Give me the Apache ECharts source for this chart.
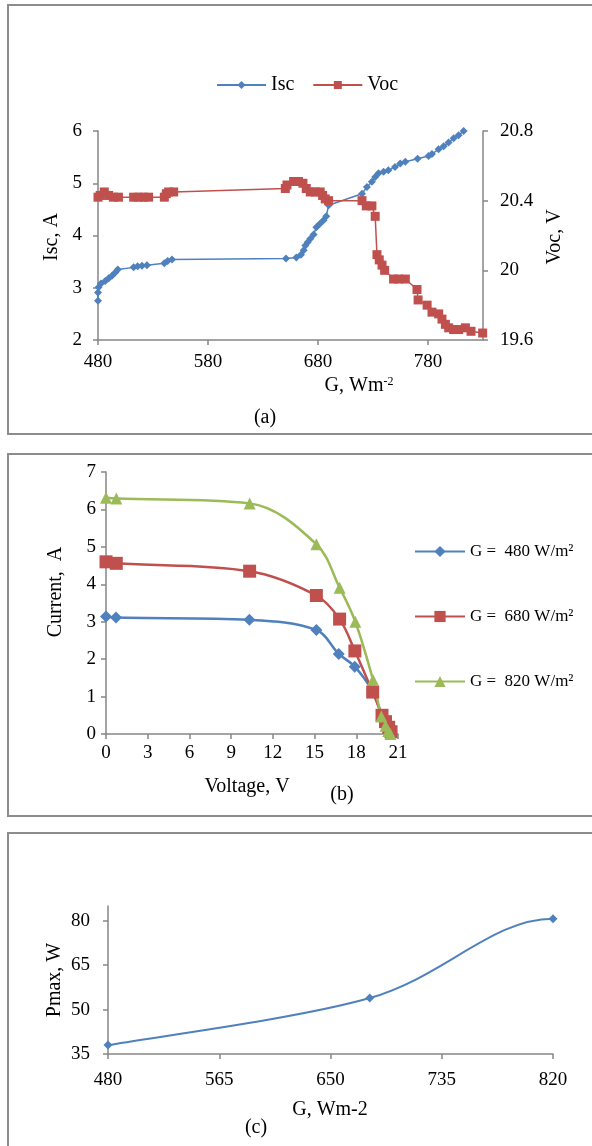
<!DOCTYPE html>
<html>
<head>
<meta charset="utf-8">
<script src="https://cdn.jsdelivr.net/npm/echarts@6/dist/echarts.min.js"></script>
<style>
html,body{margin:0;padding:0;background:#fff;}
#chart{width:592px;height:1146px;}
</style>
</head>
<body>
<div id="chart"></div>
<script>
// ---------- Panel (a): Isc and Voc vs irradiance ----------
const gIsc = [480, 480, 480.5, 482.7, 486.6, 489.7, 492.7, 495.7, 498, 512.4, 516, 520, 524.5, 540.3, 543.3, 547.3, 650.9, 660.3, 664.5, 667, 668.5, 670.6, 673, 676, 678.5, 681.5, 685, 687.5, 689.7, 720, 724.5, 729, 732, 735, 739.6, 744, 750, 754.8, 759.4, 770.5, 780.5, 783.6, 789.6, 794.2, 798.7, 803.3, 807.8, 812.4];
const isc = [2.75, 2.91, 3.01, 3.08, 3.13, 3.18, 3.23, 3.29, 3.35, 3.39, 3.41, 3.42, 3.43, 3.47, 3.51, 3.54, 3.56, 3.58, 3.63, 3.72, 3.81, 3.87, 3.94, 4.02, 4.16, 4.22, 4.29, 4.37, 4.58, 4.80, 4.93, 5.03, 5.12, 5.19, 5.22, 5.25, 5.31, 5.38, 5.41, 5.47, 5.52, 5.56, 5.65, 5.71, 5.78, 5.86, 5.92, 6.0];
const gVoc = [480, 482, 485.7, 489.7, 494, 498.6, 512.4, 517, 521.5, 526, 540.3, 542.1, 544.2, 548.8, 650.3, 651.8, 657.8, 662.3, 666.3, 669.3, 673, 677.5, 682, 684.2, 686.6, 689.6, 720, 723.9, 729, 732, 733.6, 735.7, 738.2, 740.6, 748.7, 753.3, 759.4, 770, 771, 779.2, 783.6, 789.7, 792.7, 795.8, 798.8, 803.3, 807.9, 814, 819.1, 829.7];
const voc = [20.42, 20.43, 20.45, 20.43, 20.42, 20.42, 20.42, 20.42, 20.42, 20.42, 20.42, 20.44, 20.45, 20.45, 20.47, 20.49, 20.51, 20.51, 20.50, 20.47, 20.45, 20.45, 20.45, 20.43, 20.41, 20.40, 20.40, 20.37, 20.37, 20.31, 20.09, 20.06, 20.03, 20.00, 19.95, 19.95, 19.95, 19.89, 19.83, 19.80, 19.76, 19.75, 19.72, 19.69, 19.67, 19.66, 19.66, 19.67, 19.65, 19.64];

// ---------- Panel (b): I-V curves ----------
const v480 = [0, 0.72, 10.31, 15.13, 16.74, 17.89, 19.15, 19.9, 20.15, 20.35, 20.5];
const i480 = [3.14, 3.11, 3.05, 2.78, 2.14, 1.80, 1.15, 0.45, 0.28, 0.14, 0.03];
const v680 = [0, 0.74, 10.33, 15.13, 16.8, 17.9, 19.18, 19.85, 20.1, 20.33, 20.5];
const i680 = [4.60, 4.56, 4.35, 3.70, 3.07, 2.22, 1.12, 0.50, 0.33, 0.18, 0.06];
const v820 = [0, 0.74, 10.33, 15.13, 16.8, 17.93, 19.2, 19.8, 20.1, 20.3, 20.45];
const i820 = [6.31, 6.29, 6.16, 5.07, 3.91, 3.00, 1.45, 0.47, 0.22, 0.08, 0.0];
const ivNames = ['G =  480 W/m\u00b2', 'G =  680 W/m\u00b2', 'G =  820 W/m\u00b2'];

// ---------- Panel (c): Pmax vs G ----------
const gP = [480, 680, 820];
const pmax = [38, 53.9, 80.7];

const FONT = "'Liberation Serif','Times New Roman',serif";
const BLUE = '#4F81BD', RED = '#C0504D', GREEN = '#9BBB59';
const AX = '#868686';
const zip = (a, b) => a.map((v, i) => [v, b[i]]);

function axisBase(extra) {
  return Object.assign({
    type: 'value',
    splitLine: {show: false},
    axisLine: {show: true, onZero: false, lineStyle: {color: AX, width: 1.5}},
    axisTick: {show: true, inside: false, length: 5, lineStyle: {color: AX, width: 1.5}},
    axisLabel: {color: '#000', fontFamily: FONT, fontSize: 19}
  }, extra);
}

// Spreadsheet-style smoothed curve: cubic Bezier segments through the data points,
// positioned with the chart's own axes (api.coord).
function smoothSegment(xs, ys, color, width) {
  return function (params, api) {
    const i = params.dataIndex;
    const n = xs.length;
    if (i >= n - 1) return null;
    const p = xs.map((x, k) => api.coord([x, ys[k]]));
    const handle = (k) => {
      if (k === 0) return [(p[1][0] - p[0][0]) / 6, (p[1][1] - p[0][1]) / 6];
      if (k === n - 1) return [(p[k][0] - p[k - 1][0]) / 3, 0];
      return [(p[k + 1][0] - p[k - 1][0]) / 6, (p[k + 1][1] - p[k - 1][1]) / 6];
    };
    const h0 = handle(i), h1 = handle(i + 1);
    return {
      type: 'bezierCurve',
      shape: {
        x1: p[i][0], y1: p[i][1], x2: p[i + 1][0], y2: p[i + 1][1],
        cpx1: p[i][0] + h0[0], cpy1: p[i][1] + h0[1],
        cpx2: p[i + 1][0] - h1[0], cpy2: p[i + 1][1] - h1[1]
      },
      style: {stroke: color, lineWidth: width, fill: 'none'}
    };
  };
}

const chart = echarts.init(document.getElementById('chart'), null, {renderer: 'canvas'});

const titleText = (x, y, text, rot, extra) => Object.assign({
  type: 'text', x: x, y: y, rotation: rot || 0, z: 10,
  style: {text: text, fill: '#000', fontFamily: FONT, fontSize: 20, align: 'center', verticalAlign: 'middle'}
}, extra || {});

const option = {
  backgroundColor: '#fff',
  animation: false,
  grid: [
    {left: 98, top: 131, width: 385, height: 209},
    {left: 106, top: 472, width: 292, height: 262},
    {left: 108, top: 906, width: 445, height: 148}
  ],
  xAxis: [
    axisBase({gridIndex: 0, min: 480, max: 830, interval: 100,
      axisLabel: {color: '#000', fontFamily: FONT, fontSize: 19, margin: 13, showMaxLabel: false}}),
    axisBase({gridIndex: 1, min: 0, max: 21, interval: 3,
      axisLabel: {color: '#000', fontFamily: FONT, fontSize: 19, margin: 10}}),
    axisBase({gridIndex: 2, min: 480, max: 820, interval: 85,
      axisLabel: {color: '#000', fontFamily: FONT, fontSize: 19, margin: 17}})
  ],
  yAxis: [
    axisBase({gridIndex: 0, min: 2, max: 6, interval: 1, position: 'left',
      axisLabel: {color: '#000', fontFamily: FONT, fontSize: 19, margin: 16}}),
    axisBase({gridIndex: 0, min: 19.6, max: 20.8, interval: 0.4, position: 'right',
      axisLabel: {color: '#000', fontFamily: FONT, fontSize: 19, margin: 17,
        formatter: v => String(Math.round(v * 10) / 10)}}),
    axisBase({gridIndex: 1, min: 0, max: 7, interval: 1,
      axisLabel: {color: '#000', fontFamily: FONT, fontSize: 19, margin: 10}}),
    axisBase({gridIndex: 2, min: 35, max: 85, interval: 15,
      axisLabel: {color: '#000', fontFamily: FONT, fontSize: 19, margin: 18, showMaxLabel: false}})
  ],
  legend: [
    {data: ['Isc', 'Voc'], left: 216, top: 75, padding: 0, itemWidth: 49, itemHeight: 10, itemGap: 18,
      textStyle: {color: '#000', fontFamily: FONT, fontSize: 20}},
    {data: [ivNames[0]], left: 414, top: 543, padding: 0, itemWidth: 50, itemHeight: 14,
      textStyle: {color: '#000', fontFamily: FONT, fontSize: 17}},
    {data: [ivNames[1]], left: 414, top: 608, padding: 0, itemWidth: 50, itemHeight: 14,
      textStyle: {color: '#000', fontFamily: FONT, fontSize: 17}},
    {data: [ivNames[2]], left: 414, top: 673, padding: 0, itemWidth: 50, itemHeight: 14,
      textStyle: {color: '#000', fontFamily: FONT, fontSize: 17}}
  ],
  series: [
    {name: 'Isc', type: 'line', xAxisIndex: 0, yAxisIndex: 0, data: zip(gIsc, isc),
      symbol: 'diamond', symbolSize: 8, color: BLUE, lineStyle: {width: 1.5, color: BLUE}, itemStyle: {color: BLUE}},
    {name: 'Voc', type: 'line', xAxisIndex: 0, yAxisIndex: 1, data: zip(gVoc, voc),
      symbol: 'rect', symbolSize: 9, color: RED, lineStyle: {width: 1.5, color: RED}, itemStyle: {color: RED}},
    {name: ivNames[0], type: 'line', xAxisIndex: 1, yAxisIndex: 2, data: zip(v480, i480), smooth: 0.35,
      symbol: 'diamond', symbolSize: 12, color: BLUE, lineStyle: {width: 2.5, color: BLUE}, itemStyle: {color: BLUE}},
    {name: ivNames[1], type: 'line', xAxisIndex: 1, yAxisIndex: 2, data: zip(v680, i680), smooth: 0.35,
      symbol: 'rect', symbolSize: 13, color: RED, lineStyle: {width: 2.5, color: RED}, itemStyle: {color: RED}},
    {name: ivNames[2], type: 'line', xAxisIndex: 1, yAxisIndex: 2, data: zip(v820, i820), smooth: 0.35,
      symbol: 'triangle', symbolSize: 12, color: GREEN, lineStyle: {width: 2.5, color: GREEN}, itemStyle: {color: GREEN}},
    {name: 'Pmax curve', type: 'custom', xAxisIndex: 2, yAxisIndex: 3, data: zip(gP, pmax),
      encode: {x: 0, y: 1}, renderItem: smoothSegment(gP, pmax, BLUE, 2), z: 2},
    {name: 'Pmax', type: 'scatter', xAxisIndex: 2, yAxisIndex: 3, data: zip(gP, pmax),
      symbol: 'diamond', symbolSize: 9, itemStyle: {color: BLUE, opacity: 1}, z: 3}
  ],
  graphic: [
    {type: 'rect', z: 0, shape: {x: 8, y: 5, width: 600, height: 429}, style: {fill: 'none', stroke: '#8c8c8c', lineWidth: 2}},
    {type: 'rect', z: 0, shape: {x: 8, y: 454, width: 600, height: 362}, style: {fill: 'none', stroke: '#8c8c8c', lineWidth: 2}},
    {type: 'rect', z: 0, shape: {x: 8, y: 833, width: 600, height: 330}, style: {fill: 'none', stroke: '#8c8c8c', lineWidth: 2}},
    titleText(52, 237, 'Isc, A', Math.PI / 2),
    titleText(555, 237, 'Voc, V', Math.PI / 2),
    {type: 'text', x: 359, y: 387, z: 10, style: {
      text: '{m|G, Wm}{s|-2}', align: 'center', verticalAlign: 'middle', fill: '#000',
      rich: {m: {fontFamily: FONT, fontSize: 20, fill: '#000', verticalAlign: 'top', lineHeight: 22},
             s: {fontFamily: FONT, fontSize: 12, fill: '#000', verticalAlign: 'top', lineHeight: 14}}}},
    titleText(265, 418, '(a)', 0),
    titleText(56, 592, 'Current,  A', Math.PI / 2),
    titleText(247, 787, 'Voltage, V', 0),
    titleText(342, 795, '(b)', 0),
    titleText(55, 980, 'Pmax, W', Math.PI / 2),
    titleText(330, 1110, 'G, Wm-2', 0),
    titleText(256, 1128, '(c)', 0)
  ]
};
chart.setOption(option);
</script>
</body>
</html>
